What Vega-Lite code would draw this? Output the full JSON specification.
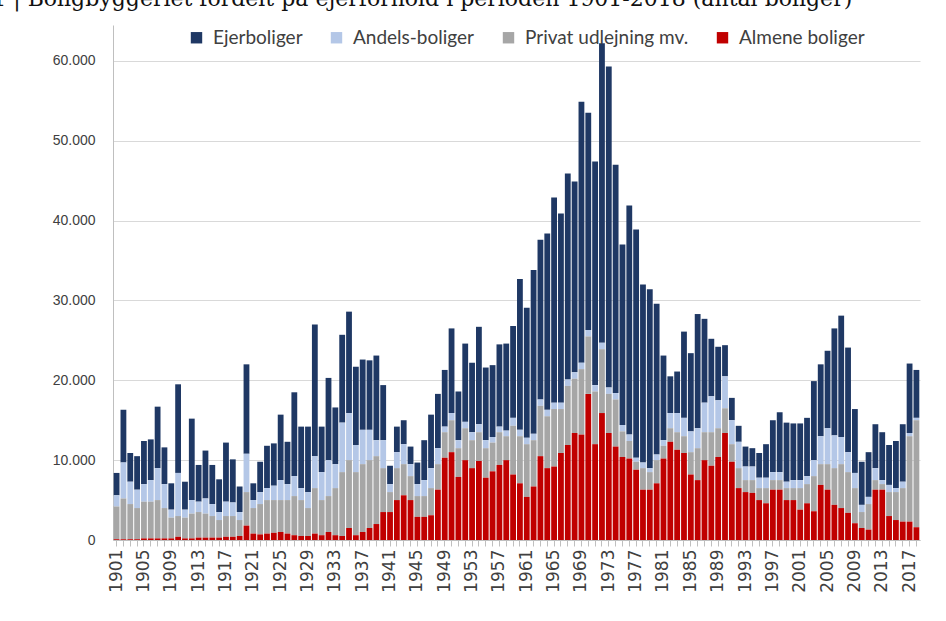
{
"$schema": "https://vega.github.io/schema/vega-lite/v6.json",
"width": 807, "height": 515,
"autosize": "none",
"padding": {"left": 113, "top": 25, "right": 26, "bottom": 81},
"background": "white",
"title": {"text": "Figur 1 | Boligbyggeriet fordelt på ejerforhold i perioden 1901-2018 (antal boliger)", "anchor": "start", "dx": -128, "offset": 0, "dy": -14, "font": "DejaVu Serif", "fontSize": 22, "fontWeight": "normal", "color": "#111111"},
"datasets": {"ord": [{"k":"R","o":1},{"k":"P","o":2},{"k":"A","o":3},{"k":"E","o":4}]},
"data": {"values": [
{"year":1901,"R":100,"P":4100,"A":1400,"E":2800},
{"year":1902,"R":100,"P":5100,"A":4500,"E":6600},
{"year":1903,"R":100,"P":4400,"A":2800,"E":3600},
{"year":1904,"R":100,"P":3900,"A":2300,"E":4200},
{"year":1905,"R":200,"P":4600,"A":2200,"E":5400},
{"year":1906,"R":200,"P":4600,"A":2700,"E":5100},
{"year":1907,"R":200,"P":4800,"A":4000,"E":7700},
{"year":1908,"R":200,"P":3800,"A":3000,"E":4600},
{"year":1909,"R":200,"P":2600,"A":1000,"E":3300},
{"year":1910,"R":400,"P":2600,"A":5400,"E":11100},
{"year":1911,"R":200,"P":2600,"A":1000,"E":3500},
{"year":1912,"R":200,"P":3100,"A":1700,"E":10200},
{"year":1913,"R":300,"P":3200,"A":1300,"E":4600},
{"year":1914,"R":300,"P":3000,"A":1900,"E":6000},
{"year":1915,"R":300,"P":2700,"A":1500,"E":4900},
{"year":1916,"R":300,"P":2200,"A":1000,"E":4100},
{"year":1917,"R":400,"P":2600,"A":1800,"E":7400},
{"year":1918,"R":400,"P":2600,"A":1700,"E":5400},
{"year":1919,"R":500,"P":2000,"A":1000,"E":3200},
{"year":1920,"R":1800,"P":4200,"A":4800,"E":11200},
{"year":1921,"R":800,"P":3200,"A":1000,"E":2100},
{"year":1922,"R":700,"P":3800,"A":1500,"E":3800},
{"year":1923,"R":800,"P":4200,"A":1500,"E":5300},
{"year":1924,"R":900,"P":4100,"A":1800,"E":5300},
{"year":1925,"R":1000,"P":4000,"A":2500,"E":8200},
{"year":1926,"R":800,"P":4200,"A":2000,"E":5300},
{"year":1927,"R":600,"P":4900,"A":2500,"E":10500},
{"year":1928,"R":500,"P":4500,"A":1500,"E":7700},
{"year":1929,"R":500,"P":3500,"A":2000,"E":8200},
{"year":1930,"R":800,"P":5700,"A":4000,"E":16500},
{"year":1931,"R":600,"P":4400,"A":3500,"E":5700},
{"year":1932,"R":1000,"P":4500,"A":4500,"E":10300},
{"year":1933,"R":600,"P":5900,"A":3000,"E":7100},
{"year":1934,"R":500,"P":8000,"A":6200,"E":11000},
{"year":1935,"R":1500,"P":8500,"A":5900,"E":12700},
{"year":1936,"R":600,"P":7900,"A":3400,"E":9800},
{"year":1937,"R":1000,"P":8500,"A":4300,"E":8800},
{"year":1938,"R":1500,"P":8500,"A":3800,"E":8700},
{"year":1939,"R":2000,"P":8500,"A":2000,"E":10600},
{"year":1940,"R":3500,"P":5500,"A":3500,"E":6900},
{"year":1941,"R":3500,"P":2500,"A":1000,"E":2300},
{"year":1942,"R":5000,"P":4000,"A":2000,"E":3200},
{"year":1943,"R":5600,"P":3900,"A":2500,"E":3000},
{"year":1944,"R":5000,"P":3000,"A":1500,"E":2200},
{"year":1945,"R":2900,"P":2600,"A":1500,"E":2700},
{"year":1946,"R":2900,"P":2600,"A":2000,"E":5000},
{"year":1947,"R":3100,"P":3400,"A":2500,"E":6700},
{"year":1948,"R":6300,"P":3200,"A":2000,"E":6800},
{"year":1949,"R":10300,"P":3200,"A":700,"E":7100},
{"year":1950,"R":11000,"P":4000,"A":900,"E":10600},
{"year":1951,"R":7900,"P":3600,"A":1000,"E":6100},
{"year":1952,"R":10000,"P":4000,"A":800,"E":9800},
{"year":1953,"R":9000,"P":3500,"A":1000,"E":8700},
{"year":1954,"R":9900,"P":3600,"A":1000,"E":12200},
{"year":1955,"R":7800,"P":3700,"A":1000,"E":9100},
{"year":1956,"R":8600,"P":3600,"A":700,"E":9000},
{"year":1957,"R":9400,"P":4100,"A":700,"E":10300},
{"year":1958,"R":10000,"P":3000,"A":700,"E":10900},
{"year":1959,"R":8200,"P":6100,"A":1000,"E":11500},
{"year":1960,"R":7100,"P":5900,"A":800,"E":18900},
{"year":1961,"R":5400,"P":6600,"A":800,"E":16300},
{"year":1962,"R":6700,"P":5800,"A":800,"E":20500},
{"year":1963,"R":10500,"P":6300,"A":800,"E":20000},
{"year":1964,"R":9000,"P":6500,"A":800,"E":22100},
{"year":1965,"R":9200,"P":7200,"A":800,"E":25700},
{"year":1966,"R":10900,"P":5500,"A":800,"E":23700},
{"year":1967,"R":11900,"P":7400,"A":800,"E":25800},
{"year":1968,"R":13400,"P":6800,"A":800,"E":23900},
{"year":1969,"R":13200,"P":8200,"A":800,"E":32700},
{"year":1970,"R":18300,"P":7200,"A":800,"E":27200},
{"year":1971,"R":12000,"P":6600,"A":800,"E":28000},
{"year":1972,"R":15900,"P":8000,"A":800,"E":37500},
{"year":1973,"R":13400,"P":4900,"A":800,"E":40200},
{"year":1974,"R":11700,"P":5900,"A":800,"E":28600},
{"year":1975,"R":10400,"P":3200,"A":800,"E":22600},
{"year":1976,"R":10200,"P":2200,"A":800,"E":28700},
{"year":1977,"R":8800,"P":1000,"A":500,"E":28600},
{"year":1978,"R":6300,"P":2700,"A":700,"E":22300},
{"year":1979,"R":6300,"P":2200,"A":500,"E":22400},
{"year":1980,"R":7100,"P":2900,"A":700,"E":18900},
{"year":1981,"R":10200,"P":1600,"A":700,"E":10600},
{"year":1982,"R":12300,"P":1700,"A":1900,"E":4600},
{"year":1983,"R":11300,"P":2200,"A":2400,"E":5200},
{"year":1984,"R":10900,"P":2100,"A":2300,"E":10800},
{"year":1985,"R":8200,"P":2800,"A":2600,"E":9800},
{"year":1986,"R":7500,"P":4000,"A":2500,"E":14300},
{"year":1987,"R":10000,"P":3500,"A":3700,"E":10500},
{"year":1988,"R":9300,"P":4200,"A":4500,"E":7200},
{"year":1989,"R":10400,"P":3600,"A":3500,"E":6700},
{"year":1990,"R":13400,"P":3100,"A":4000,"E":3900},
{"year":1991,"R":9800,"P":2200,"A":3000,"E":2800},
{"year":1992,"R":6500,"P":2500,"A":3300,"E":2000},
{"year":1993,"R":6000,"P":1500,"A":1700,"E":2500},
{"year":1994,"R":5900,"P":1600,"A":1700,"E":2300},
{"year":1995,"R":5000,"P":1500,"A":1300,"E":3100},
{"year":1996,"R":4600,"P":1900,"A":1300,"E":4200},
{"year":1997,"R":6300,"P":1200,"A":1000,"E":6500},
{"year":1998,"R":6300,"P":1200,"A":1000,"E":7500},
{"year":1999,"R":5000,"P":1500,"A":800,"E":7400},
{"year":2000,"R":5000,"P":1500,"A":1000,"E":7100},
{"year":2001,"R":3800,"P":2700,"A":1000,"E":7100},
{"year":2002,"R":4600,"P":2400,"A":1000,"E":7300},
{"year":2003,"R":3600,"P":4400,"A":2000,"E":9900},
{"year":2004,"R":6900,"P":2600,"A":3500,"E":9000},
{"year":2005,"R":6300,"P":3200,"A":4500,"E":9700},
{"year":2006,"R":4400,"P":4600,"A":4100,"E":13400},
{"year":2007,"R":4000,"P":5500,"A":3400,"E":15200},
{"year":2008,"R":3400,"P":5100,"A":2500,"E":13100},
{"year":2009,"R":2100,"P":4400,"A":1900,"E":8000},
{"year":2010,"R":1500,"P":2000,"A":900,"E":5400},
{"year":2011,"R":1300,"P":3200,"A":900,"E":5600},
{"year":2012,"R":6300,"P":1200,"A":1500,"E":5500},
{"year":2013,"R":6300,"P":700,"A":500,"E":6000},
{"year":2014,"R":3000,"P":3000,"A":900,"E":5000},
{"year":2015,"R":2500,"P":3500,"A":500,"E":5900},
{"year":2016,"R":2300,"P":4200,"A":800,"E":7200},
{"year":2017,"R":2300,"P":10700,"A":400,"E":8700},
{"year":2018,"R":1600,"P":13400,"A":300,"E":6000}
]},
"transform": [
 {"fold": ["E","A","P","R"], "as": ["k","v"]},
 {"lookup": "k", "from": {"data": {"name": "ord"}, "key": "k", "fields": ["o"]}}
],
"mark": {"type": "bar"},
"encoding": {
 "x": {"field": "year", "type": "ordinal", "scale": {"paddingInner": 0.15, "paddingOuter": 0.1},
  "axis": {"title": null, "labelAngle": -90, "labelFontSize": 17, "labelColor": "#404040", "labelFont": "DejaVu Sans",
   "labelExpr": "(datum.value - 1901) % 4 == 0 ? datum.label : ''", "labelPadding": 3,
   "ticks": true, "tickSize": 6, "tickColor": "#BFBFBF", "domainColor": "#BFBFBF", "grid": false}},
 "y": {"field": "v", "type": "quantitative", "stack": "zero", "scale": {"domain": [0, 64500], "nice": false},
  "axis": {"title": null, "values": [0,10000,20000,30000,40000,50000,60000],
   "labelExpr": "replace(format(datum.value, ','), ',', '.')", "labelFontSize": 14, "labelColor": "#404040", "labelFont": "Liberation Sans",
   "labelPadding": 18, "ticks": false, "grid": true, "gridColor": "#D9D9D9", "domain": true, "domainColor": "#BFBFBF"}},
 "color": {"field": "k", "type": "nominal",
  "scale": {"domain": ["E","A","P","R"], "range": ["#1F3864","#B4C7E7","#A6A6A6","#C00000"]},
  "legend": {"title": null, "orient": "none", "legendX": 74, "legendY": 3, "direction": "horizontal",
   "symbolType": "square", "symbolSize": 130, "symbolStrokeWidth": 0, "labelFontSize": 19, "labelColor": "#404040", "labelFont": "Lato",
   "columnPadding": 24, "labelOffset": 7, "labelLimit": 400,
   "labelExpr": "datum.label == 'E' ? 'Ejerboliger' : datum.label == 'A' ? 'Andels-boliger' : datum.label == 'P' ? 'Privat udlejning mv.' : 'Almene boliger'"}},
 "order": {"field": "o", "type": "quantitative", "sort": "ascending"}
},
"config": {"view": {"stroke": null}}
}
